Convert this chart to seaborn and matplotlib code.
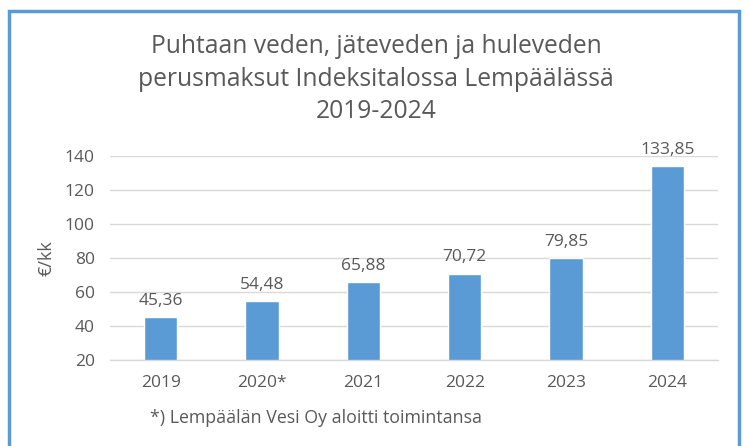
import matplotlib
matplotlib.use("Agg")
import matplotlib.pyplot as plt
import seaborn as sns
import pandas as pd
from matplotlib.patches import Rectangle

years = ["2019", "2020*", "2021", "2022", "2023", "2024"]
values = [45.36, 54.48, 65.88, 70.72, 79.85, 133.85]
value_labels = ["45,36", "54,48", "65,88", "70,72", "79,85", "133,85"]
yticks = [20, 40, 60, 80, 100, 120, 140]

sns.set_theme(style="white")
plt.rcParams['font.family'] = ['Open Sans', 'DejaVu Sans']

BLUE = "#5B9BD5"
GRAY = "#595959"

fig = plt.figure(figsize=(7.45, 4.46), dpi=100)
ax = fig.add_axes([110/745, 1-360/446, (718-110)/745, (360-156)/446])

df = pd.DataFrame({"year": years, "value": values})
sns.barplot(data=df, x="year", y="value", color=BLUE, width=0.33, ax=ax, saturation=1)

ax.set_ylim(20, 140)
ax.set_xlim(-0.5, 5.5)
ax.set_yticks(yticks)
ax.set_yticklabels([str(t) for t in yticks])
ax.yaxis.grid(True, color="#D9D9D9", linewidth=1)
ax.set_axisbelow(True)
for s in ["top", "right", "left"]:
    ax.spines[s].set_visible(False)
ax.spines["bottom"].set_color("#D9D9D9")
ax.spines["bottom"].set_linewidth(1)
ax.tick_params(axis="y", length=0, labelsize=12.5, labelcolor=GRAY, pad=11)
ax.tick_params(axis="x", length=0, labelsize=12.5, labelcolor=GRAY, pad=11)
ax.set_xlabel("")
ax.set_ylabel("€/kk", fontsize=13, color=GRAY, labelpad=7)

for i, (v, lab) in enumerate(zip(values, value_labels)):
    ax.annotate(lab, (i, v), xytext=(0, 6), textcoords="offset points",
                ha="center", va="bottom", fontsize=12.5, color=GRAY)

fig.text(376/745, 1-79/446,
         "Puhtaan veden, jäteveden ja huleveden\nperusmaksut Indeksitalossa Lempäälässä\n2019-2024",
         ha="center", va="center", fontsize=17.7, color=GRAY, linespacing=1.42)

fig.text(150/745, 1-418/446, "*) Lempäälän Vesi Oy aloitti toimintansa",
         ha="left", va="center", fontsize=12.8, color=GRAY)

fig.patches.append(Rectangle((8.5/745, -0.05), (739-8.5)/745, 1-10.5/446+0.05,
                             transform=fig.transFigure, fill=False,
                             edgecolor=BLUE, linewidth=2.5, figure=fig))

fig.savefig("out.png", dpi=100)
